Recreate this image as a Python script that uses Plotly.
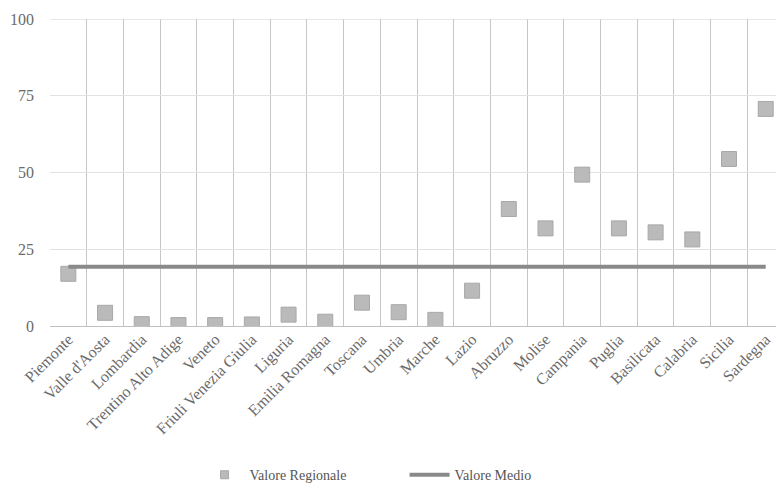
import plotly.graph_objects as go

regioni = ["Piemonte", "Valle d'Aosta", "Lombardia", "Trentino Alto Adige", "Veneto",
           "Friuli Venezia Giulia", "Liguria", "Emilia Romagna", "Toscana", "Umbria",
           "Marche", "Lazio", "Abruzzo", "Molise", "Campania", "Puglia", "Basilicata",
           "Calabria", "Sicilia", "Sardegna"]
valore_regionale = [17.0, 4.3, 0.6, 0.3, 0.3, 0.5, 3.7, 1.4, 7.6, 4.5,
                    2.0, 11.5, 38.1, 31.8, 49.3, 31.8, 30.5, 28.2, 54.4, 70.7]
valore_medio = 19.3
y_ticks = [0, 25, 50, 75, 100]

font_family = "Liberation Serif, Times New Roman, serif"
text_color = "#6a6a6a"
marker_color = "#bababa"

fig = go.Figure()
fig.add_trace(go.Scatter(
    x=regioni, y=valore_regionale, mode="markers", name="Valore Regionale",
    showlegend=False, legendgroup="reg",
    marker=dict(symbol="square", size=15, color=marker_color,
                line=dict(color="#a8a8a8", width=1)),
))
# legend entry only (smaller symbol, as in the reference legend)
fig.add_trace(go.Scatter(
    x=[None], y=[None], mode="markers", name="Valore Regionale", legendgroup="reg",
    marker=dict(symbol="square", size=8, color=marker_color,
                line=dict(color="#a8a8a8", width=1)),
))
fig.add_trace(go.Scatter(
    x=regioni, y=[valore_medio] * len(regioni), mode="lines", name="Valore Medio",
    line=dict(color="#8a8a8a", width=4),
))

fig.update_layout(
    width=776, height=492,
    margin=dict(l=50, r=0, t=19, b=166),
    paper_bgcolor="white", plot_bgcolor="white",
    font=dict(family=font_family, size=14, color=text_color),
    showlegend=True,
    legend=dict(orientation="h", x=0.206, xanchor="left", y=-0.538, yanchor="bottom",
                font=dict(family=font_family, size=14, color="#555555"),
                itemwidth=40, entrywidth=150, traceorder="normal"),
    xaxis=dict(
        type="category", range=[-0.5, 19.28], tickson="boundaries",
        showgrid=True, gridcolor="#c6c6c6", gridwidth=1,
        tickangle=-45, ticks="", showline=False, zeroline=False,
        tickfont=dict(family=font_family, size=16, color=text_color),
    ),
    yaxis=dict(
        range=[0, 100], tickvals=y_ticks, ticktext=[str(v) for v in y_ticks],
        showgrid=True, gridcolor="#e2e2e2", gridwidth=1,
        zeroline=True, zerolinecolor="#c0c0c0", zerolinewidth=1,
        showline=False, ticks="", ticklabelstandoff=15,
        tickfont=dict(family=font_family, size=16, color=text_color),
    ),
)
fig.add_hline(y=100, line=dict(color="#cfcfcf", width=1))

fig.write_html("out.html", config={"displayModeBar": False},
               post_script="document.body.style.margin='0';document.body.style.overflow='hidden';")
